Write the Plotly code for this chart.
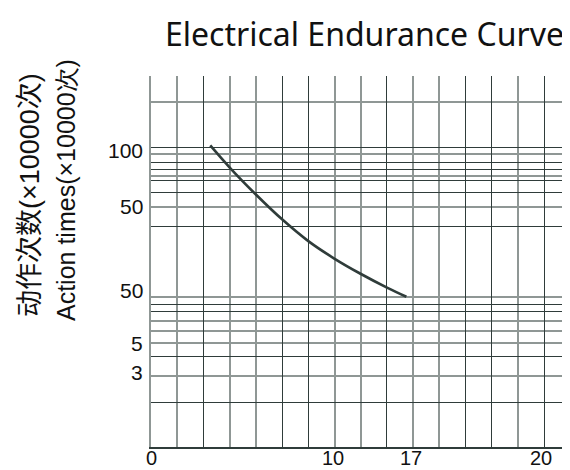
import plotly.graph_objects as go

# ---- data (chart units: x = grid columns, y = 0..100 vertical scale) ----
curve_x = [2.26, 3.02, 4.01, 5.01, 6.00, 6.99, 7.99, 9.02, 9.74]
curve_y = [81.3, 75.2, 68.0, 61.3, 55.5, 50.8, 46.7, 42.9, 40.5]

x_dark_lines = [2, 5, 6, 9, 12, 13, 15]
x_grey_lines = [1, 3, 4, 7, 8, 10, 11, 14]
y_dark_lines = [80.7, 76.8, 74.8, 71.7, 68.6, 59.5, 38.5, 36.5, 24.5, 12.0]
y_grey_lines = [100.0, 92.9, 78.9, 73.0, 64.6, 40.4, 34.0, 31.2, 28.1, 19.2]

x_label_pos = [0, 6.95, 9.92, 14.86]
x_label_text = ["0", "10", "17", "20"]
y_label_pos = [79.9, 64.8, 42.3, 27.8, 20.1]
y_label_text = ["100", "50", "50", "5", "3"]

title_text = "Electrical Endurance Curve"
ytitle_cn = "动作次数(×10000次)"
ytitle_en = "Action times(×10000次)"

DARK = "#2f3c3a"
GREY = "#8f9795"

# page body offset (browser default margin)
OFF = 8
WIN_W, WIN_H = 570, 470
W, H = WIN_W - OFF, WIN_H - OFF
plot_l, plot_r, plot_t, plot_b = 151, 570, 76, 447  # window pixels
ml, mr, mt, mb = plot_l - OFF, WIN_W - plot_r, plot_t - OFF, WIN_H - plot_b
pw, ph = W - ml - mr, H - mt - mb

def paper(px, py):
    return (px - plot_l) / pw, (plot_b - py) / ph

fig = go.Figure()
fig.add_trace(go.Scatter(x=curve_x, y=curve_y, mode="lines",
                         line=dict(color=DARK, width=2.6, shape="spline", smoothing=1.0),
                         hoverinfo="skip", showlegend=False))

fig.update_layout(
    width=W, height=H, autosize=False,
    margin=dict(l=ml, r=mr, t=mt, b=mb, pad=0),
    paper_bgcolor="white", plot_bgcolor="white",
    showlegend=False,
    xaxis=dict(range=[0, 15.98], tickmode="array", tickvals=x_dark_lines,
               showticklabels=False, ticks="", showgrid=True,
               gridcolor=DARK, gridwidth=1.4, zeroline=False,
               showline=True, linecolor=DARK, linewidth=1.6, mirror=False,
               minor=dict(tickmode="array", tickvals=x_grey_lines, showgrid=True,
                          gridcolor=GREY, gridwidth=1.8, ticks="")),
    yaxis=dict(range=[0, 100], tickmode="array", tickvals=y_dark_lines,
               showticklabels=False, ticks="", showgrid=True,
               gridcolor=DARK, gridwidth=1.4, zeroline=False,
               showline=True, linecolor=GREY, linewidth=1.8, mirror=False,
               minor=dict(tickmode="array", tickvals=y_grey_lines, showgrid=True,
                          gridcolor=GREY, gridwidth=1.8, ticks="")),
)

tick_font = dict(family="Liberation Sans, Arial", size=21, color="#111")
_, y_bottom = paper(0, WIN_H)
for xv, t in zip(x_label_pos, x_label_text):
    fig.add_annotation(x=xv, y=y_bottom, xref="x", yref="paper", text=t, showarrow=False,
                       xanchor="center", yanchor="bottom", borderpad=0,
                       font=dict(family="Liberation Sans, Arial", size=20, color="#111"))
for yv, t in zip(y_label_pos, y_label_text):
    fig.add_annotation(x=0, y=yv, xref="paper", yref="y", text=t, showarrow=False,
                       xanchor="right", yanchor="middle", xshift=-6, font=tick_font)

cx, cy = paper(30, 195)
ex, ey = paper(66, 190)
tx, ty = paper(566, 33)
fig.add_annotation(x=cx, y=cy, xref="paper", yref="paper", text=ytitle_cn,
                   showarrow=False, textangle=-90, xanchor="center", yanchor="middle",
                   font=dict(family="Liberation Sans, Noto Sans CJK SC", size=27, color="#111"))
fig.add_annotation(x=ex, y=ey, xref="paper", yref="paper", text=ytitle_en,
                   showarrow=False, textangle=-90, xanchor="center", yanchor="middle",
                   font=dict(family="Liberation Sans, Arial", size=25, color="#111"))
fig.add_annotation(x=tx, y=ty, xref="paper", yref="paper", text=title_text,
                   showarrow=False, xanchor="right", yanchor="middle",
                   font=dict(family="Noto Sans", size=32, color="#111"))

fig.write_html("out.html")
